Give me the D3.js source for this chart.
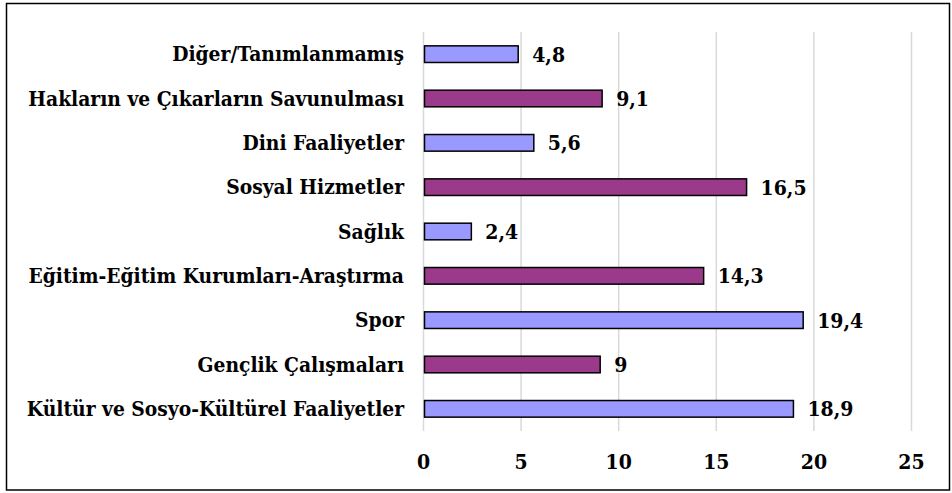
<!DOCTYPE html>
<html><head><meta charset="utf-8">
<script src="https://cdn.jsdelivr.net/npm/d3@7"></script>
<style>body{margin:0;background:#fff}svg{display:block}text{font-family:"DejaVu Serif Condensed","DejaVu Serif",serif;font-stretch:condensed;font-weight:bold}</style>
</head><body>
<svg id="c" width="952" height="493"></svg>
<script>
const categories = ["Diğer/Tanımlanmamış","Hakların ve Çıkarların Savunulması","Dini Faaliyetler","Sosyal Hizmetler","Sağlık","Eğitim-Eğitim Kurumları-Araştırma","Spor","Gençlik Çalışmaları","Kültür ve Sosyo-Kültürel Faaliyetler"];
const values = [4.8, 9.1, 5.6, 16.5, 2.4, 14.3, 19.4, 9, 18.9];
const valueLabels = ["4,8","9,1","5,6","16,5","2,4","14,3","19,4","9","18,9"];
const ticks = [0,5,10,15,20,25];
const colors = ["#9999ff","#9b3a8a"];

const svg = d3.select("#c");
svg.append("rect").attr("x",6.5).attr("y",3.5).attr("width",943).attr("height",486.5)
  .attr("fill","#fff").attr("stroke","#000").attr("stroke-width",1.5);

const x = d3.scaleLinear().domain([0,25]).range([423.5,911.5]);
const y = d3.scaleBand().domain(categories).range([32,431]).paddingInner(0.625).paddingOuter(0.3125);

svg.append("g").selectAll("line").data(ticks).join("line")
  .attr("x1",d=>x(d)).attr("x2",d=>x(d)).attr("y1",32).attr("y2",431)
  .attr("stroke","#d9d9d9").attr("stroke-width",1.5);

svg.append("g").selectAll("rect").data(values).join("rect")
  .attr("x",x(0)+1).attr("y",(d,i)=>y(categories[i]))
  .attr("width",d=>x(d)-x(0)).attr("height",y.bandwidth())
  .attr("fill",(d,i)=>colors[i%2]).attr("stroke","#000").attr("stroke-width",1.5);

svg.append("g").selectAll("text").data(categories).join("text")
  .attr("x",404).attr("y",d=>y(d)+y.bandwidth()/2).attr("dy","0.35em")
  .attr("text-anchor","end").attr("font-size",20.8)
  .text(d=>d);

svg.append("g").selectAll("text").data(values).join("text")
  .attr("x",d=>x(d)+15).attr("y",(d,i)=>y(categories[i])+y.bandwidth()/2).attr("dy","0.35em")
  .attr("font-size",21)
  .text((d,i)=>valueLabels[i]);

svg.append("g").selectAll("text").data(ticks).join("text")
  .attr("x",d=>x(d)).attr("y",462).attr("dy","0.35em").attr("text-anchor","middle")
  .attr("font-size",21)
  .text(d=>d);
</script>
</body></html>
